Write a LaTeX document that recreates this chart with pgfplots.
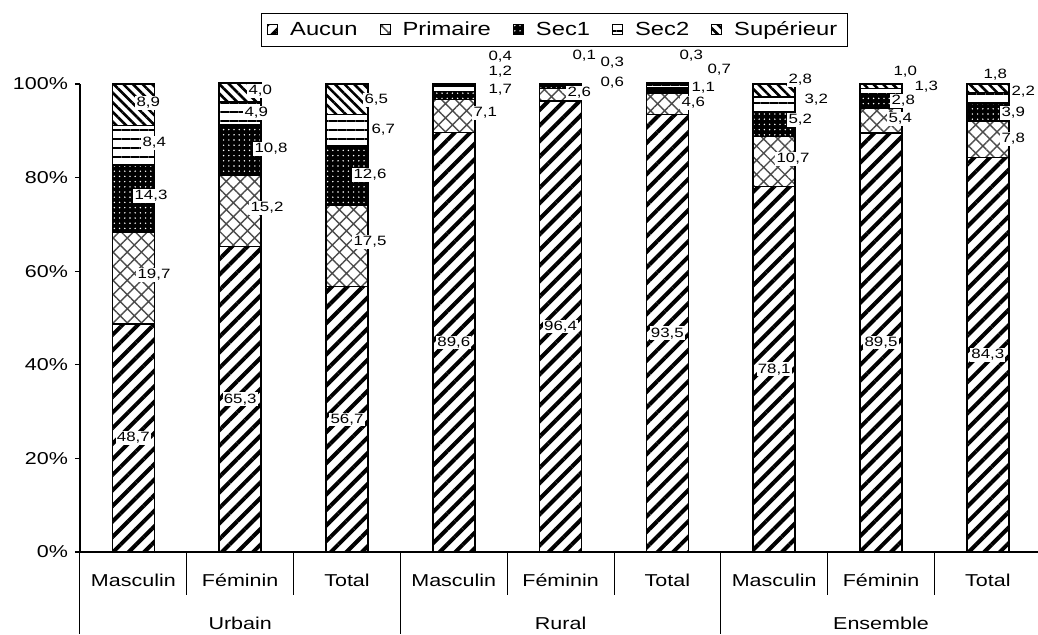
\documentclass[border=0pt]{standalone}
\usepackage{fontspec}
\setmainfont[FakeStretch=1.25]{Liberation Sans}
\usepackage{pgfplots}
\usepackage{pgfplotstable}
\pgfplotsset{compat=1.18}
\usetikzlibrary{patterns.meta}

\pgfplotstableread{
x aucun prim sec1 sec2 sup
0 48.7 19.7 14.3 8.4 8.9
1 65.3 15.2 10.8 4.9 4.0
2 56.7 17.5 12.6 6.7 6.5
3 89.6 7.1 1.7 1.2 0.4
4 96.4 2.6 0.6 0.3 0.1
5 93.5 4.6 1.1 0.7 0.3
6 78.1 10.7 5.2 3.2 2.8
7 89.5 5.4 2.8 1.3 1.0
8 84.3 7.8 3.9 2.2 1.8
}\data

\tikzset{lbl/.style={fill=white, inner sep=0.6pt, font=\fontsize{6.75}{7}\selectfont}}
% label anchors: first pass (inside axis) defines coordinates, second pass (after axis) draws nodes
\newcommand\labcoord[3]{\coordinate (L#1-#2) at (axis cs:{(#1-80)/106.8-0.5},{(552-#2)/4.68});}
\newcommand\labnode[3]{\node[lbl,anchor=west] at (L#1-#2) {#3};}
\newcommand\labccoord[3]{\coordinate (C#1) at (axis cs:#1,#2);}
\newcommand\labcnode[3]{\node[lbl] at (C#1) {#3};}
\newcommand\labellist[2]{%
#2{0}{24.35}{48,7}#2{1}{32.65}{65,3}#2{2}{28.35}{56,7}%
#2{3}{44.8}{89,6}#2{4}{48.2}{96,4}#2{5}{46.75}{93,5}%
#2{6}{39.05}{78,1}#2{7}{44.75}{89,5}#2{8}{42.15}{84,3}%
#1{136}{275}{19,7}#1{133}{196}{14,3}#1{141}{143}{8,4}#1{135}{103}{8,9}%
#1{249}{208}{15,2}#1{253}{149}{10,8}#1{243}{113}{4,9}#1{247}{91}{4,0}%
#1{352}{242}{17,5}#1{352}{175}{12,6}#1{370}{130}{6,7}#1{363}{100}{6,5}%
#1{472}{113}{7,1}#1{487}{90}{1,7}#1{487}{72}{1,2}#1{487}{57}{0,4}%
#1{566}{93}{2,6}#1{599}{83}{0,6}#1{599}{63}{0,3}#1{571}{56}{0,1}%
#1{680}{103}{4,6}#1{690}{88}{1,1}#1{706}{70}{0,7}#1{678}{56}{0,3}%
#1{775}{159}{10,7}#1{787}{120}{5,2}#1{803}{100}{3,2}#1{787}{80}{2,8}%
#1{887}{119}{5,4}#1{890}{101}{2,8}#1{913}{87}{1,3}#1{892}{72}{1,0}%
#1{1000}{139}{7,8}#1{1000}{113}{3,9}#1{1010}{92}{2,2}#1{982}{75}{1,8}%
}
\newcommand\sub[2]{\node[yshift=-14pt] at (axis cs:#1,0) {#2};}
\newcommand\grp[2]{\node[yshift=-35.5pt] at (axis cs:#1,0) {#2};}

\begin{document}
\begin{tikzpicture}
\begin{axis}[
  at={(0pt,0pt)}, anchor=south west,
  scale only axis, width=479pt, height=234pt,
  xmin=-0.5, xmax=8.47, ymin=0, ymax=100,
  ybar stacked, bar width=21pt, clip=false,
  axis x line*=bottom, axis y line*=left,
  axis line style={line width=0.6pt},
  xtick=\empty,
  ytick={0,20,...,100},
  yticklabel={\pgfmathprintnumber{\tick}\%},
  /pgf/number format/assume math mode=true,
  tick align=outside, major tick length=2.5pt,
  tick style={line width=0.6pt, black},
  font=\fontsize{8.6}{10}\selectfont,
  legend columns=-1,
  legend image code/.code={\draw[#1, line width=0.5pt] (0pt,-2.5pt) rectangle (5pt,2.5pt);},
  legend style={at={(0.495,1.152)}, anchor=north, draw=black, line width=0.6pt,
     font=\fontsize{9.5}{11}\selectfont,
     /tikz/every even column/.append style={column sep=9pt},
     /tikz/every odd column/.append style={column sep=4pt}},
]
\addplot[draw=black, line width=0.8pt, pattern={Lines[angle=45,distance=5.5pt,line width=2pt]}, pattern color=black] table[x=x,y=aucun]{\data};
\addlegendentry{Aucun}
\addplot[draw=black, line width=0.8pt, pattern={Hatch[angle=45,distance=5pt,line width=0.7pt]}, pattern color=black!70] table[x=x,y=prim]{\data};
\addlegendentry{Primaire}
\addplot[draw=black, line width=0.8pt, fill=black, postaction={pattern={Dots[distance=2.6pt,radius=0.4pt]}, pattern color=white}] table[x=x,y=sec1]{\data};
\addlegendentry{Sec1}
\addplot[draw=black, line width=0.8pt, pattern={Lines[angle=0,distance=4.5pt,line width=1pt]}, pattern color=black] table[x=x,y=sec2]{\data};
\addlegendentry{Sec2}
\addplot[draw=black, line width=0.8pt, pattern={Lines[angle=-45,distance=3.4pt,line width=1.3pt]}, pattern color=black] table[x=x,y=sup]{\data};
\addlegendentry{Supérieur}

% separators under the axis
\pgfplotsinvokeforeach{0.5,1.5,3.5,4.5,6.5,7.5}{\draw[line width=0.5pt] (axis cs:#1,0) -- ++(0pt,-21.5pt);}
\pgfplotsinvokeforeach{-0.5,2.5,5.5}{\draw[line width=0.5pt] (axis cs:#1,0) -- ++(0pt,-41pt);}

\sub{0}{Masculin}\sub{1}{Féminin}\sub{2}{Total}
\sub{3}{Masculin}\sub{4}{Féminin}\sub{5}{Total}
\sub{6}{Masculin}\sub{7}{Féminin}\sub{8}{Total}
\grp{1}{Urbain}\grp{4}{Rural}\grp{7}{Ensemble}

\labellist\labcoord\labccoord
\end{axis}
\labellist\labnode\labcnode
\pgfresetboundingbox
\useasboundingbox (-40pt,-41pt) rectangle (479pt,276pt);
\end{tikzpicture}
\end{document}
